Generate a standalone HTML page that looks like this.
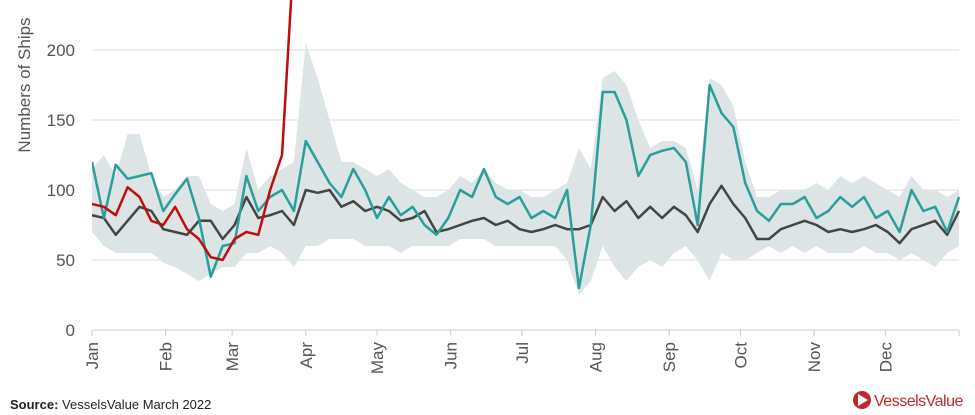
<!DOCTYPE html>
<html><head><meta charset="utf-8"><style>
html,body{margin:0;padding:0;background:#fff;}
svg{display:block;font-family:"Liberation Sans",sans-serif;}
</style></head><body>
<svg id="chart" width="975" height="415">
<g id="grid"></g>
<g id="yaxis"></g>
<g id="xaxis"></g>
<g id="plot"></g>
<text transform="translate(30,85) rotate(-90)" text-anchor="middle" font-size="17" fill="#555">Numbers of Ships</text>
<text x="10" y="409" font-size="13" fill="#222"><tspan font-weight="bold">Source:</tspan> VesselsValue March 2022</text>
<g>
<circle cx="862" cy="400" r="9" fill="#c0282d"/>
<path d="M858,394 L868,400 L858,406 Z" fill="#fff"/>
<text x="874" y="406" font-size="16" fill="#c0282d" letter-spacing="-0.5">VesselsValue</text>
</g>
</svg>
<script>
const months = ["Jan","Feb","Mar","Apr","May","Jun","Jul","Aug","Sep","Oct","Nov","Dec"];
const monthDays = [0,31,59,90,120,151,181,212,243,273,304,334];
const yTicks = [0,50,100,150,200];
const stepDays = 5;
const teal = [120,80,118,108,110,112,85,97,108,80,38,60,62,110,85,95,100,85,135,120,105,95,115,100,80,95,82,88,75,68,80,100,95,115,95,90,95,80,85,80,100,30,75,170,170,150,110,125,128,130,120,75,175,155,145,105,85,78,90,90,95,80,85,95,88,95,80,85,70,100,85,88,70,95];
const dark = [82,80,68,78,88,85,72,70,68,78,78,65,75,95,80,82,85,75,100,98,100,88,92,85,88,85,78,80,85,70,72,75,78,80,75,78,72,70,72,75,72,72,75,95,85,92,80,88,80,88,82,70,90,103,90,80,65,65,72,75,78,75,70,72,70,72,75,70,62,72,75,78,68,85];
const red = [90,88,82,102,95,78,75,88,72,65,52,50,65,70,68,100,125,270];
const bandLo = [70,60,55,55,55,55,48,45,40,35,40,45,45,55,55,60,55,45,60,60,65,65,65,60,60,60,55,60,60,60,60,65,65,65,60,60,60,60,60,60,50,25,35,60,45,35,45,50,45,55,60,50,35,55,50,50,55,60,55,60,55,60,55,55,55,60,55,55,50,55,50,45,55,60];
const bandHi = [115,125,110,140,140,110,95,100,110,110,90,85,90,130,100,110,115,120,205,180,150,120,120,115,110,115,105,100,95,95,100,110,105,115,105,100,100,95,95,100,105,130,115,180,185,175,150,130,135,135,130,100,180,175,160,120,95,95,100,100,100,105,100,110,105,110,105,100,95,110,100,100,95,100];

const X0=92, X1=959, Y0=330, PXU=1.4;
const xs = d => X0 + d*(X1-X0)/365;
const ys = v => Y0 - v*PXU;
const NS="http://www.w3.org/2000/svg";
function mk(tag, parent, attrs){const e=document.createElementNS(NS,tag);for(const k in attrs)e.setAttribute(k,attrs[k]);parent.appendChild(e);return e;}

const grid=document.getElementById('grid'), yaxis=document.getElementById('yaxis'), xaxis=document.getElementById('xaxis'), plot=document.getElementById('plot');
yTicks.forEach(t=>{
  if(t>0){const l=mk('line',grid,{x1:X0,x2:X1,y1:ys(t),y2:ys(t),stroke:'#dcdcdc','stroke-width':1});
  
  }
  const tx=mk('text',yaxis,{x:75,y:ys(t)+6,'text-anchor':'end','font-size':17,fill:'#555'});
  tx.textContent=t;
  
  
});
const base=mk('line',xaxis,{x1:X0,x2:X1,y1:Y0,y2:Y0,stroke:'#ccc','stroke-width':1});


months.forEach((m,i)=>{
  const x=xs(monthDays[i]);
  mk('line',xaxis,{x1:x,x2:x,y1:Y0,y2:Y0+6,stroke:'#ccc'});
  const t=mk('text',xaxis,{transform:`translate(${x+6},342) rotate(-90)`,'text-anchor':'end','font-size':17,fill:'#555'});
  t.textContent=m;
  
  
});
mk('line',xaxis,{x1:X1,x2:X1,y1:Y0,y2:Y0+6,stroke:'#ccc'});

const clip=mk('clipPath',plot,{id:'pc'});
mk('rect',clip,{x:X0,y:0,width:X1-X0+2,height:Y0});

let d='';
bandHi.forEach((v,i)=>{d+=(i?'L':'M')+xs(i*stepDays)+','+ys(v);});
for(let i=bandLo.length-1;i>=0;i--)d+='L'+xs(i*stepDays)+','+ys(bandLo[i]);
const band=mk('path',plot,{d:d+'Z',fill:'#dde4e6'});



function line(arr,color,name,w){
  const p=mk('path',plot,{d:arr.map((v,i)=>(i?'L':'M')+xs(i*stepDays)+','+ys(v)).join(''),fill:'none',stroke:color,'stroke-width':w,'stroke-linejoin':'round','clip-path':'url(#pc)'});
  
  
}
line(dark,'#444','average-line',2.5);
line(teal,'#2a9e9b','previous-year-line',2.5);
line(red,'#c00d0d','current-year-line',2.5);
</script>
</body></html>
